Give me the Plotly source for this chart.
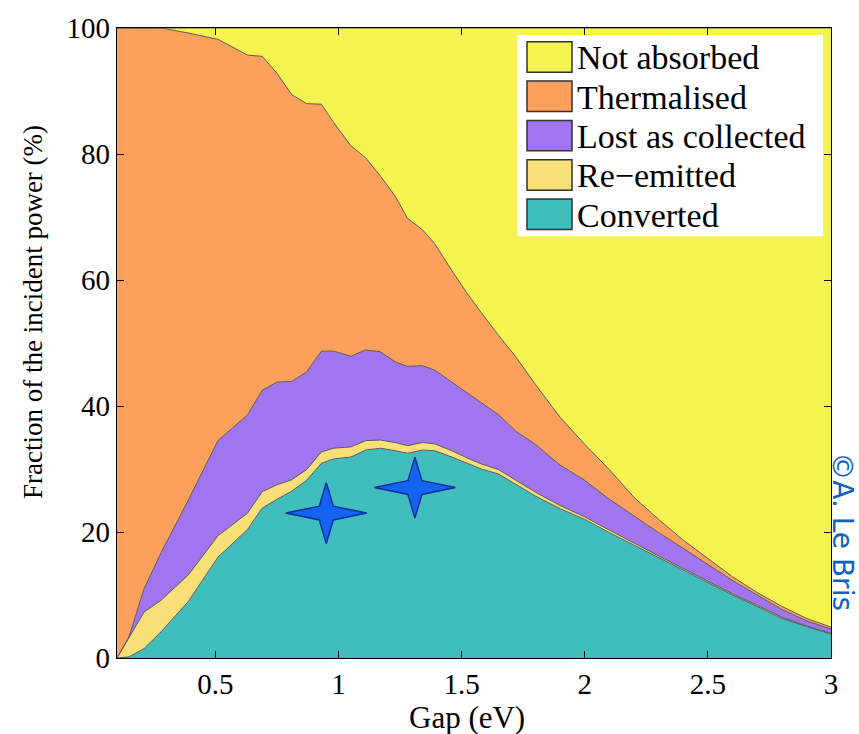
import plotly.graph_objects as go

# Gap values (eV)
gap = [0.10, 0.15, 0.21, 0.28, 0.39, 0.51, 0.63, 0.69, 0.75, 0.81, 0.87, 0.93, 0.98,
       1.05, 1.11, 1.17, 1.23, 1.28, 1.34, 1.39, 1.46, 1.52, 1.58, 1.65, 1.72, 1.80,
       1.90, 2.00, 2.10, 2.20, 2.30, 2.40, 2.50, 2.60, 2.70, 2.80, 2.90, 3.00]

# Fractions of the incident power (%) - each layer's own share
converted = [0, 0.2, 1.5, 4.2, 9.0, 16.0, 20.4, 23.8, 25.2, 26.5, 28.2, 30.9, 31.6,
             31.9, 33.0, 33.3, 32.9, 32.5, 33.0, 32.9, 31.9, 30.9, 30.0, 29.2, 27.6, 25.7,
             23.7, 22.0, 19.9, 17.9, 15.9, 13.9, 12.0, 10.0, 8.2, 6.3, 5.0, 3.8]
re_emitted = [0, 3.1, 5.8, 5.0, 4.2, 3.4, 2.6, 2.6, 2.3, 1.8, 1.7, 1.8, 1.7,
              1.6, 1.5, 1.3, 1.3, 1.2, 1.2, 1.1, 1.0, 0.9, 0.8, 0.7, 0.6, 0.6,
              0.5, 0.4, 0.4, 0.3, 0.3, 0.3, 0.2, 0.2, 0.2, 0.2, 0.1, 0.1]
lost_as_collected = [0, 0.2, 3.7, 7.6, 11.9, 15.1, 15.6, 16.1, 16.3, 15.6, 15.5, 16.0, 15.4,
                     14.4, 14.4, 14.0, 12.8, 12.6, 12.2, 11.7, 10.9, 10.4, 9.8, 8.7, 7.8, 7.6,
                     6.4, 5.8, 4.9, 4.3, 3.7, 3.2, 2.6, 2.1, 1.6, 1.2, 0.8, 0.7]
thermalised = [100, 96.5, 89.0, 83.2, 74.1, 63.7, 57.1, 53.0, 49.0, 45.5, 42.6, 39.2, 36.3,
               33.4, 30.5, 27.9, 26.3, 23.5, 21.6, 20.1, 17.7, 15.8, 14.2, 12.6, 11.8, 9.5,
               7.6, 5.7, 4.7, 3.0, 2.1, 1.3, 1.0, 0.6, 0.4, 0.5, 0.4, 0.3]
not_absorbed = [0, 0, 0, 0, 0.8, 1.8, 4.3, 4.5, 7.2, 10.6, 12.0, 12.1, 15.0,
                18.7, 20.6, 23.5, 26.7, 30.2, 32.0, 34.2, 38.5, 42.0, 45.2, 48.8, 52.2, 56.6,
                61.8, 66.1, 70.1, 74.5, 78.0, 81.3, 84.2, 87.1, 89.6, 91.8, 93.7, 95.1]

series_names = ["Converted", "Re\u2212emitted", "Lost as collected", "Thermalised", "Not absorbed"]
series_values = [converted, re_emitted, lost_as_collected, thermalised, not_absorbed]
series_colors = ["#40BEBD", "#F9DF77", "#A275F0", "#FCA05C", "#F4F350"]

# Highlighted gaps (stars)
star_gap = [0.95, 1.31]
star_val = [23.0, 27.05]

x_ticks = [0.5, 1, 1.5, 2, 2.5, 3]
x_ticklabels = ["0.5", "1", "1.5", "2", "2.5", "3"]
y_ticks = [0, 20, 40, 60, 80, 100]

serif = "'Liberation Serif', 'DejaVu Serif', 'Times New Roman', Times, serif"

# plot geometry (pixels)
W, H = 859, 734
ML, MR, MT, MB = 117, 28, 17, 76
PW, PH = W - ML - MR, H - MT - MB
X0, X1 = 0.1, 3.0
Y0, Y1 = 0.0, 100.0
px_per_x = PW / (X1 - X0)
px_per_y = PH / (Y1 - Y0)

fig = go.Figure()
for name, vals, col in zip(series_names, series_values, series_colors):
    fig.add_trace(go.Scatter(
        x=gap, y=vals, name=name, mode="lines", stackgroup="one",
        line=dict(color="#5a5a5a", width=1), fillcolor=col, showlegend=False,
    ))

# four-pointed stars around each highlighted point (arm sizes in pixels)
arm_h, arm_v, inner = 40.5, 31.0, 7.0
sx, sy = [], []
for cx, cy in zip(star_gap, star_val):
    pts = [(arm_h, 0), (inner, inner), (0, arm_v), (-inner, inner),
           (-arm_h, 0), (-inner, -inner), (0, -arm_v), (inner, -inner), (arm_h, 0)]
    for dx, dy in pts:
        sx.append(cx + dx / px_per_x)
        sy.append(cy + dy / px_per_y)
    sx.append(None)
    sy.append(None)
fig.add_trace(go.Scatter(
    x=sx, y=sy, mode="lines", fill="toself", fillcolor="#1464F4",
    line=dict(color="#0A2F9A", width=1.5), showlegend=False, hoverinfo="skip",
))


def xp(px):
    return (px - ML) / PW


def yp(py):
    return (H - MB - py) / PH


shapes = []
annotations = []
# custom legend (box, swatches, labels)
shapes.append(dict(type="rect", xref="paper", yref="paper",
                   x0=xp(517), x1=xp(823), y0=yp(229), y1=yp(24),
                   fillcolor="white", line=dict(width=0), layer="above"))
legend_order = list(zip(series_names, series_colors))[::-1]
for i, (name, col) in enumerate(legend_order):
    cy = 46.5 + 40 * i
    shapes.append(dict(type="rect", xref="paper", yref="paper",
                       x0=xp(527), x1=xp(572), y0=yp(cy + 15.5), y1=yp(cy - 15.5),
                       fillcolor=col, line=dict(color="#333333", width=1.5), layer="above"))
    annotations.append(dict(text=name, xref="paper", yref="paper",
                            x=xp(575), y=yp(cy + 1), xanchor="left", yanchor="middle",
                            showarrow=False, font=dict(family=serif, size=34, color="black")))

annotations += [
    dict(text="Fraction of the incident power (%)", xref="paper", yref="paper",
         x=xp(33), y=yp(306), xanchor="center", yanchor="middle", textangle=-90,
         showarrow=False, font=dict(family=serif, size=27, color="black")),
    dict(text="Gap (eV)", xref="paper", yref="paper",
         x=xp(467), y=yp(719), xanchor="center", yanchor="middle",
         showarrow=False, font=dict(family=serif, size=31, color="black")),
    dict(text="\u00a9A. Le Bris", xref="paper", yref="paper",
         x=xp(843), y=yp(529), xanchor="center", yanchor="middle",
         textangle=90, showarrow=False,
         font=dict(family="DejaVu Sans", size=28, color="#0B61C4")),
]

fig.update_layout(
    width=W, height=H,
    margin=dict(l=ML, r=MR, t=MT, b=MB),
    paper_bgcolor="white", plot_bgcolor="white",
    font=dict(family=serif, color="black", size=28),
    showlegend=False,
    xaxis=dict(
        range=[X0, X1], tickvals=x_ticks, ticktext=x_ticklabels,
        ticks="inside", ticklen=7, tickcolor="black",
        showline=True, linecolor="black", linewidth=1.2, mirror="ticks",
        showgrid=False, zeroline=False,
        tickfont=dict(family=serif, size=29),
    ),
    yaxis=dict(
        range=[Y0, Y1], tickvals=y_ticks,
        ticks="inside", ticklen=7, tickcolor="black",
        showline=True, linecolor="black", linewidth=1.2, mirror="ticks",
        showgrid=False, zeroline=False,
        tickfont=dict(family=serif, size=29),
    ),
    shapes=shapes,
    annotations=annotations,
)

fig.write_html("out.html")
